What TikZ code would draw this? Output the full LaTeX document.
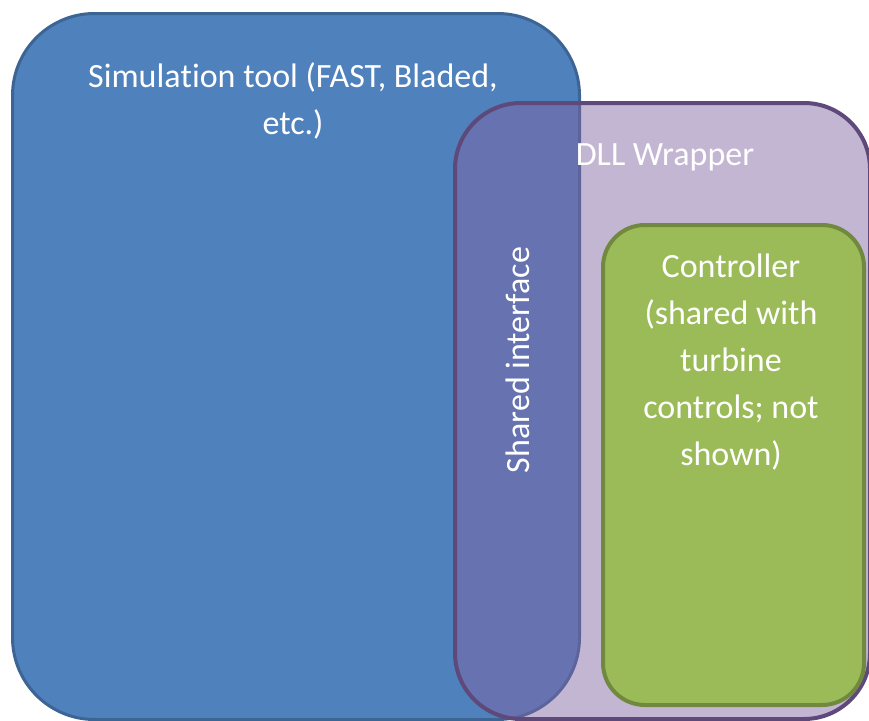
\documentclass[tikz,border=0pt]{standalone}
\usepackage{fontspec}
\setmainfont{Carlito}[RawFeature={-liga;-clig;-calt}]
\definecolor{simblue}{HTML}{4F81BD}
\definecolor{simedge}{HTML}{3C6494}
\definecolor{wrapfill}{HTML}{8064A2}
\definecolor{wrapedge}{HTML}{5F497A}
\definecolor{ctrlfill}{HTML}{9BBB59}
\definecolor{ctrledge}{HTML}{71893F}
\begin{document}
\begin{tikzpicture}[x=1pt,y=-1pt,
  box/.style={inner sep=0pt, anchor=north west},
  lbl/.style={text=white, font=\fontsize{34}{47}\selectfont, align=center, inner sep=0pt}]
\useasboundingbox (0,0) rectangle (869,720);
% simulation tool
\node[box, draw=simedge, line width=3pt, fill=simblue, rounded corners=82pt,
      minimum width=567pt, minimum height=706pt] (sim) at (11,12) {};
% DLL wrapper, translucent so the shared interface shows through
\node[box, fill=wrapfill, fill opacity=0.47, draw=wrapedge, draw opacity=1,
      line width=4pt, rounded corners=66pt,
      minimum width=415pt, minimum height=616pt] (wrap) at (453,101) {};
% controller
\node[box, draw=ctrledge, line width=4pt, fill=ctrlfill, rounded corners=42pt,
      minimum width=261pt, minimum height=480pt] (ctrl) at (601,223) {};
% labels (the kern keeps "t" and "i" as separate letters)
\node[lbl] (simlbl) at (293,101) {Simula\kern0pt tion tool (FAST, Bladed,\\etc.)};
\node[lbl] (wraplbl) at (665,157) {DLL Wrapper};
\node[lbl, rotate=90] (iflbl) at (518,360) {Shared interface};
\node[lbl] (ctrllbl) at (731,362) {Controller\\(shared with\\turbine\\controls; not\\shown)};
\end{tikzpicture}
\end{document}
